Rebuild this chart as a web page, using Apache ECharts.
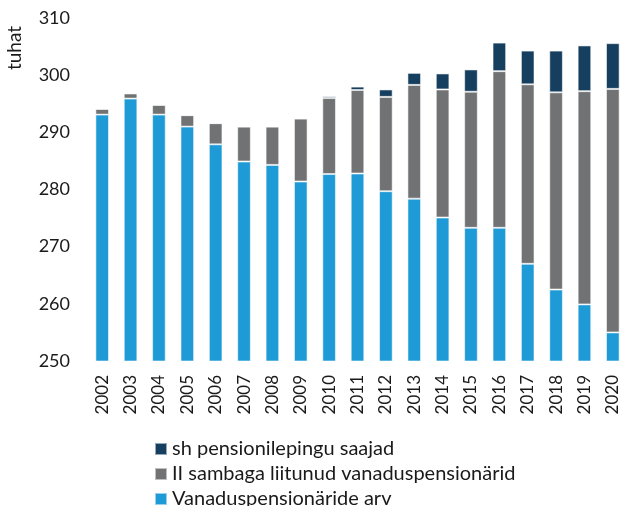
<!DOCTYPE html>
<html>
<head>
<meta charset="utf-8">
<script src="https://cdn.jsdelivr.net/npm/echarts@6/dist/echarts.min.js"></script>
<style>
html,body{margin:0;padding:0;background:#fff;}
#chart{width:627px;height:506px;}
</style>
</head>
<body>
<div id="chart"></div>
<script>
const years = ['2002','2003','2004','2005','2006','2007','2008','2009','2010','2011','2012','2013','2014','2015','2016','2017','2018','2019','2020'];
const pensioners = [293.1, 295.9, 293.1, 291.0, 287.9, 284.9, 284.3, 281.4, 282.7, 282.8, 279.7, 278.4, 275.1, 273.3, 273.3, 267.0, 262.5, 259.9, 255.0];
const pillarTwo = [1.0, 0.9, 1.7, 2.0, 3.7, 6.1, 6.7, 11.0, 13.3, 14.6, 16.5, 19.9, 22.4, 23.8, 27.4, 31.4, 34.5, 37.3, 42.6];
const contract = [0, 0, 0, 0, 0, 0, 0, 0.1, 0.3, 0.6, 1.3, 2.1, 2.8, 3.9, 5.0, 5.9, 7.3, 8.0, 8.0];
const yTicks = {min: 250, max: 310, interval: 10};
const names = ['Vanaduspensionäride arv', 'II sambaga liitunud vanaduspensionärid', 'sh pensionilepingu saajad'];

const font = 'Lato, "Open Sans", sans-serif';
const chart = echarts.init(document.getElementById('chart'), null, {renderer: 'canvas'});
const border = {borderColor: 'rgba(255,255,255,0.55)', borderWidth: 1};
chart.setOption({
  animation: false,
  backgroundColor: '#ffffff',
  textStyle: {fontFamily: font},
  grid: {left: 88, right: -5, top: 18, bottom: 145, containLabel: false},
  legend: {
    orient: 'vertical',
    left: 154,
    top: 439,
    height: 120,
    padding: 0,
    itemWidth: 12,
    itemHeight: 12,
    itemGap: 5,
    icon: 'rect',
    data: [names[2], names[1], names[0]],
    textStyle: {fontFamily: font, fontSize: 20, color: '#1a1a1a', lineHeight: 20, padding: [0,0,0,0]}
  },
  xAxis: {
    type: 'category',
    data: years,
    axisLine: {show: false},
    axisTick: {show: false},
    axisLabel: {rotate: 90, margin: 14, fontFamily: font, fontSize: 17, color: '#1a1a1a'}
  },
  yAxis: {
    type: 'value',
    min: yTicks.min,
    max: yTicks.max,
    interval: yTicks.interval,
    splitLine: {show: false},
    axisLine: {show: false},
    axisTick: {show: false},
    axisLabel: {margin: 18, fontFamily: font, fontSize: 18, color: '#1a1a1a'}
  },
  graphic: [{
    type: 'text',
    x: 15, y: 48,
    rotation: Math.PI / 2,
    style: {text: 'tuhat', fontFamily: font, fontSize: 19, fill: '#1a1a1a', align: 'center', verticalAlign: 'middle'}
  }],
  series: [
    {name: names[0], type: 'bar', stack: 's', barWidth: '48%', data: pensioners, itemStyle: Object.assign({color: '#1e9ad6'}, border)},
    {name: names[1], type: 'bar', stack: 's', data: pillarTwo, itemStyle: Object.assign({color: '#717273'}, border)},
    {name: names[2], type: 'bar', stack: 's', data: contract, itemStyle: Object.assign({color: '#163f5f'}, border)}
  ]
});
</script>
</body>
</html>
